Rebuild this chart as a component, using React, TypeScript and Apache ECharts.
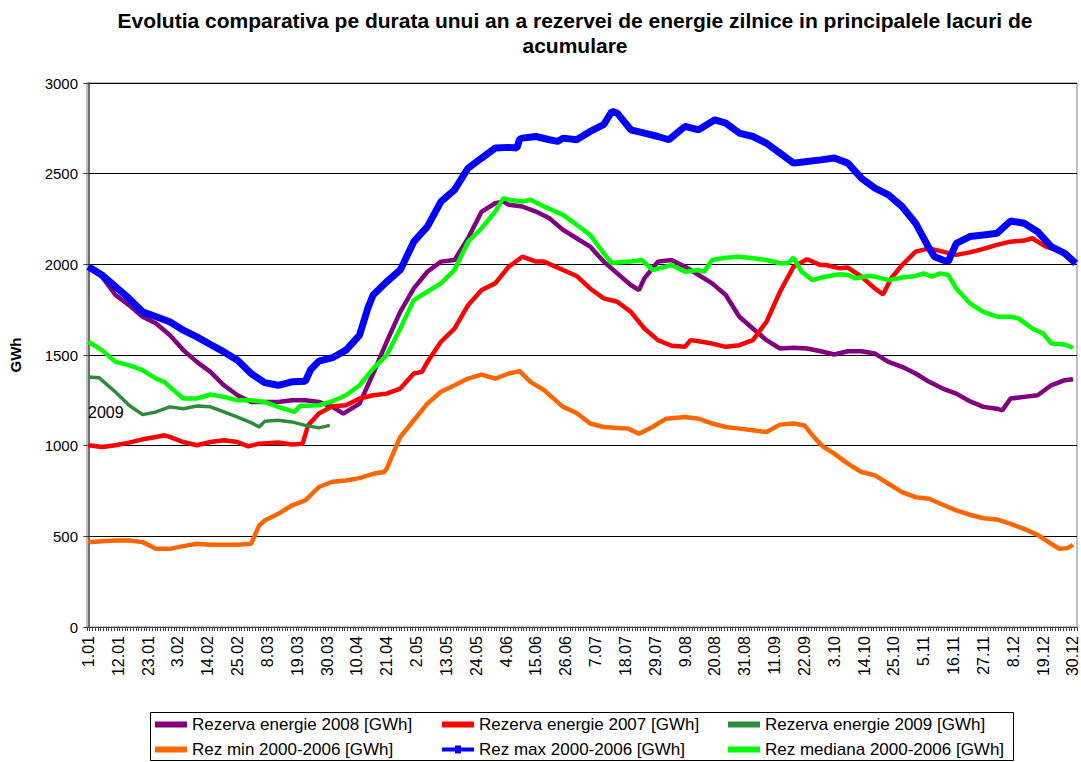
import React, { useEffect, useRef } from "react";
import * as echarts from "echarts";

const FONT = 'Arial, "Liberation Sans", Helvetica, sans-serif';

const dateLabels = [
  "1.01", "12.01", "23.01", "3.02", "14.02", "25.02", "8.03", "19.03", "30.03", "10.04",
  "21.04", "2.05", "13.05", "24.05", "4.06", "15.06", "26.06", "7.07", "18.07", "29.07",
  "9.08", "20.08", "31.08", "11.09", "22.09", "3.10", "14.10", "25.10", "5.11", "16.11",
  "27.11", "8.12", "19.12", "30.12",
];
const labelDays = dateLabels.map((_, i) => i * 11);
const dayTicks = Array.from({ length: 366 }, (_, i) => i - 0.5);

const seriesNames = [
  "Rezerva energie 2008 [GWh]",
  "Rezerva energie 2007 [GWh]",
  "Rezerva energie 2009 [GWh]",
  "Rez min 2000-2006 [GWh]",
  "Rez max 2000-2006 [GWh]",
  "Rez mediana 2000-2006 [GWh]",
];

// [day of year, GWh]
const rez2008: [number, number][] = [
  [0, 1987], [5, 1932], [10, 1831], [15, 1775], [20, 1711], [25, 1674], [30, 1610], [35, 1527],
  [40, 1462], [45, 1407], [50, 1333], [55, 1278], [60, 1241], [65, 1241], [70, 1241], [75, 1250],
  [80, 1250], [85, 1241], [90, 1214], [94, 1177], [100, 1232], [105, 1398], [110, 1573],
  [115, 1738], [120, 1867], [125, 1959], [130, 2015], [135, 2024], [140, 2144], [145, 2291],
  [150, 2337], [153, 2346], [155, 2328], [160, 2319], [165, 2291], [170, 2254], [175, 2190],
  [180, 2144], [185, 2098], [190, 2015], [195, 1950], [200, 1886], [203, 1858], [205, 1923],
  [210, 2015], [215, 2024], [220, 1987], [225, 1941], [230, 1895], [235, 1831], [240, 1711],
  [245, 1646], [250, 1582], [255, 1536], [260, 1540], [265, 1536], [270, 1521], [275, 1503],
  [280, 1521], [285, 1521], [290, 1508], [295, 1462], [300, 1435], [305, 1398], [310, 1352],
  [315, 1315], [320, 1287], [325, 1245], [330, 1214], [335, 1204], [337, 1195], [340, 1260],
  [345, 1269], [350, 1278], [355, 1333], [360, 1361], [363, 1366],
];

const rez2007: [number, number][] = [
  [0, 1002], [5, 993], [10, 1002], [15, 1017], [20, 1035], [25, 1048], [28, 1057], [30, 1048],
  [35, 1020], [40, 1002], [45, 1020], [50, 1030], [55, 1020], [59, 996], [63, 1011], [70, 1017],
  [75, 1006], [79, 1011], [81, 1112], [85, 1177], [90, 1218], [95, 1223], [100, 1260],
  [105, 1278], [110, 1287], [115, 1315], [120, 1398], [123, 1407], [125, 1462], [130, 1573],
  [135, 1646], [140, 1775], [145, 1858], [150, 1895], [155, 1987], [160, 2042], [165, 2015],
  [168, 2015], [175, 1969], [180, 1936], [185, 1867], [190, 1812], [195, 1794], [200, 1738],
  [205, 1646], [210, 1582], [215, 1551], [220, 1545], [222, 1582], [225, 1576], [230, 1563],
  [235, 1545], [240, 1554], [245, 1582], [250, 1683], [255, 1849], [260, 1987], [265, 2028],
  [270, 1996], [272, 1996], [277, 1978], [280, 1982], [285, 1932], [290, 1867], [293, 1834],
  [296, 1923], [300, 1996], [305, 2070], [310, 2088], [315, 2070], [320, 2052], [325, 2066],
  [330, 2085], [335, 2107], [340, 2125], [345, 2131], [348, 2144], [353, 2098], [358, 2075],
  [364, 2005],
];

const rez2009: [number, number][] = [
  [0, 1379], [4, 1374], [10, 1296], [15, 1223], [20, 1171], [25, 1186], [30, 1214], [35, 1204],
  [40, 1219], [45, 1214], [50, 1186], [55, 1158], [60, 1127], [63, 1103], [65, 1134], [70, 1140],
  [75, 1131], [80, 1112], [85, 1098], [89, 1112],
];

const rezMin: [number, number][] = [
  [0, 468], [5, 473], [10, 477], [15, 477], [20, 468], [25, 431], [30, 431], [35, 446], [40, 459],
  [45, 453], [50, 453], [55, 453], [60, 459], [63, 560], [65, 587], [70, 624], [75, 670], [80, 698],
  [85, 772], [90, 801], [95, 808], [100, 821], [105, 845], [109, 855], [110, 873], [115, 1048],
  [120, 1140], [125, 1232], [130, 1297], [135, 1333], [140, 1370], [145, 1392], [150, 1370],
  [155, 1398], [159, 1411], [163, 1352], [168, 1306], [175, 1214], [180, 1180], [185, 1122],
  [190, 1103], [195, 1098], [199, 1094], [203, 1066], [208, 1103], [213, 1149], [220, 1158],
  [225, 1149], [230, 1122], [235, 1103], [240, 1094], [245, 1085], [250, 1075], [255, 1116],
  [260, 1122], [264, 1112], [268, 1039], [271, 993], [275, 956], [280, 901], [285, 855], [290, 836],
  [295, 790], [300, 744], [305, 716], [310, 707], [315, 674], [320, 643], [325, 619], [330, 600],
  [335, 593], [340, 569], [345, 541], [350, 508], [355, 459], [358, 431], [361, 435], [363, 453],
];

const rezMax: [number, number][] = [
  [0, 1987], [5, 1941], [10, 1877], [15, 1812], [20, 1738], [25, 1711], [30, 1683], [35, 1637],
  [40, 1600], [45, 1558], [50, 1517], [55, 1471], [60, 1398], [65, 1348], [70, 1333], [75, 1352],
  [80, 1355], [82, 1420], [85, 1466], [90, 1485], [95, 1527], [100, 1610], [103, 1757],
  [105, 1831], [110, 1904], [115, 1969], [120, 2125], [125, 2208], [130, 2346], [135, 2411],
  [140, 2530], [145, 2586], [150, 2641], [155, 2645], [158, 2641], [159, 2690], [160, 2696],
  [165, 2705], [170, 2687], [173, 2678], [175, 2696], [180, 2687], [185, 2733], [190, 2770],
  [193, 2843], [195, 2834], [200, 2742], [205, 2724], [210, 2705], [214, 2687], [220, 2761],
  [225, 2742], [231, 2797], [235, 2779], [240, 2724], [245, 2705], [250, 2668], [255, 2613],
  [260, 2558], [265, 2567], [270, 2576], [275, 2586], [280, 2558], [285, 2475], [290, 2420],
  [295, 2383], [300, 2319], [305, 2227], [310, 2088], [312, 2042], [315, 2024], [317, 2015],
  [320, 2116], [325, 2153], [330, 2162], [335, 2171], [340, 2239], [345, 2227], [350, 2180],
  [355, 2098], [360, 2061], [364, 2005],
];

const rezMediana: [number, number][] = [
  [0, 1573], [5, 1527], [10, 1462], [15, 1444], [20, 1416], [25, 1370], [28, 1352], [30, 1324],
  [35, 1260], [40, 1260], [45, 1282], [50, 1269], [55, 1250], [60, 1250], [65, 1241], [70, 1214],
  [76, 1186], [78, 1219], [85, 1223], [90, 1245], [95, 1278], [100, 1333], [105, 1425],
  [110, 1499], [115, 1646], [120, 1803], [125, 1849], [130, 1895], [135, 1969], [140, 2125],
  [145, 2199], [150, 2291], [153, 2365], [155, 2356], [160, 2346], [163, 2356], [168, 2319],
  [175, 2273], [180, 2218], [185, 2162], [190, 2061], [193, 2006], [195, 2010], [200, 2015],
  [204, 2024], [208, 1969], [215, 1996], [220, 1959], [225, 1969], [227, 1959], [230, 2024],
  [235, 2037], [240, 2042], [245, 2033], [250, 2024], [255, 2006], [258, 2006], [260, 2037],
  [263, 1959], [267, 1913], [271, 1930], [277, 1945], [280, 1941], [283, 1923], [288, 1937],
  [290, 1932], [295, 1913], [300, 1927], [305, 1936], [308, 1950], [311, 1932], [314, 1950],
  [317, 1941], [320, 1867], [325, 1785], [330, 1738], [335, 1711], [340, 1711], [343, 1702],
  [348, 1646], [352, 1619], [355, 1564], [360, 1558], [363, 1540],
];

const seriesData = [rez2008, rez2007, rez2009, rezMin, rezMax, rezMediana];
const seriesColors = ["#800080", "#FF0000", "#2E8B3E", "#FF6600", "#0000FF", "#00FF00"];
const seriesWidths = [4.5, 4.5, 3.5, 4.5, 7, 4.5];

const blueIcon = "path://M0,2H13V0H19V2H32V6H19V8H13V6H0Z";

// legend item anchors (icon left, row top)
const legendSlots = [
  [155, 716], [442, 716], [728, 716],
  [155, 741], [442, 741], [728, 741],
];

export default function App() {
  const ref = useRef<HTMLDivElement>(null);

  useEffect(() => {
    if (!ref.current) return;
    const chart = echarts.init(ref.current, null, { renderer: "svg" });

    const legends = seriesNames.map((name, i) => ({
      data: [name],
      left: legendSlots[i][0],
      top: legendSlots[i][1],
      padding: 0,
      itemWidth: 32,
      itemHeight: i === 4 ? 8 : 6,
      icon: i === 4 ? blueIcon : "rect",
      selectedMode: false,
      textStyle: { fontSize: 17, color: "#000", fontFamily: FONT },
    }));

    chart.setOption({
      animation: false,
      backgroundColor: "#fff",
      textStyle: { fontFamily: FONT },
      grid: {
        left: 87,
        right: 4,
        top: 83,
        bottom: 135,
        show: true,
        borderColor: "#808080",
        borderWidth: 1,
      },
      legend: legends,
      xAxis: {
        type: "value",
        min: -0.5,
        max: 364.5,
        axisLine: { show: true, onZero: false, lineStyle: { color: "#404040", width: 1 } },
        axisTick: {
          show: true,
          customValues: dayTicks,
          length: 4,
          lineStyle: { color: "#404040", width: 1 },
        },
        splitLine: { show: false },
        axisLabel: {
          customValues: labelDays,
          formatter: (v: number) => dateLabels[Math.round(v / 11)] ?? "",
          rotate: 90,
          fontSize: 16,
          color: "#000",
          margin: 9,
          fontFamily: FONT,
        },
      },
      yAxis: {
        type: "value",
        min: 0,
        max: 3000,
        interval: 500,
        name: "GWh",
        nameLocation: "middle",
        nameGap: 64,
        nameTextStyle: { fontWeight: "bold", fontSize: 15, color: "#000", fontFamily: FONT },
        axisLine: { show: true, lineStyle: { color: "#404040", width: 1.5 } },
        axisTick: { show: true, length: 5, lineStyle: { color: "#404040" } },
        splitLine: { show: true, lineStyle: { color: "#000", width: 1 } },
        axisLabel: {
          fontSize: 15,
          color: "#000",
          margin: 9,
          fontFamily: FONT,
          formatter: (v: number) => String(v),
        },
      },
      graphic: [
        {
          type: "text",
          x: 575,
          y: 8,
          style: {
            text:
              "Evolutia comparativa pe durata unui an a rezervei de energie zilnice in principalele lacuri de\nacumulare",
            fill: "#000",
            font: `bold 21px ${FONT}`,
            textAlign: "center",
            textVerticalAlign: "top",
            lineHeight: 25,
          },
        },
        {
          type: "text",
          x: 88,
          y: 404,
          z: 10,
          style: { text: "2009", fill: "#000", font: `16px ${FONT}` },
        },
        {
          type: "rect",
          shape: { x: 150.5, y: 712.5, width: 863, height: 48 },
          style: { fill: "none", stroke: "#000", lineWidth: 1 },
        },
      ],
      series: seriesNames.map((name, i) => ({
        name,
        type: "line",
        data: seriesData[i],
        symbol: "none",
        color: seriesColors[i],
        lineStyle: { color: seriesColors[i], width: seriesWidths[i] },
        emphasis: { disabled: true },
        z: 2 + i,
      })),
    });

    return () => chart.dispose();
  }, []);

  return (
    <div
      ref={ref}
      style={{ position: "fixed", left: 0, top: 0, width: 1081, height: 762 }}
    />
  );
}
